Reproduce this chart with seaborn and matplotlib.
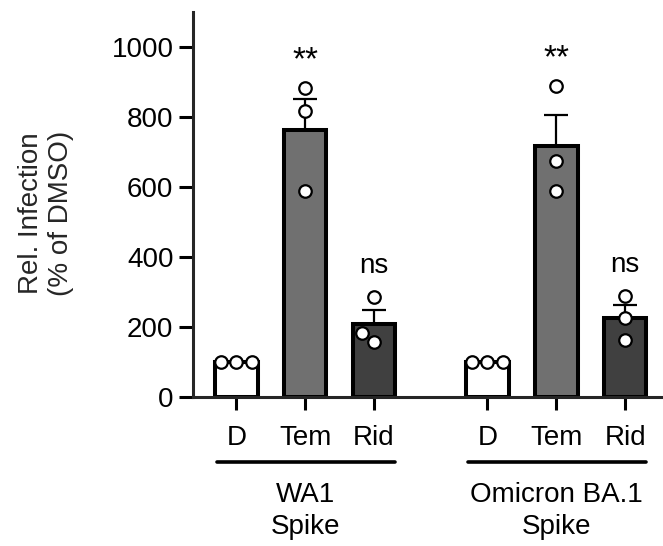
import numpy as np
import pandas as pd
import matplotlib
matplotlib.use("Agg")
import matplotlib.pyplot as plt
import matplotlib.transforms as mtransforms
import seaborn as sns

# data (replicates, % of DMSO)
groups = ["WA1\nSpike", "Omicron BA.1\nSpike"]
treatments = ["D", "Tem", "Rid"]
wa1_vals = [[100, 100, 100], [884, 817, 589], [287, 182, 157]]
omi_vals = [[100, 100, 100], [889, 674, 588], [289, 225, 163]]
sig_labels = ["", "**", "ns"]
colors = {"D": "#ffffff", "Tem": "#707070", "Rid": "#404040"}

group_gap = 1.65  # space between last bar of one group and first of next

rows = []
for gi, vals in enumerate([wa1_vals, omi_vals]):
    for ti, reps in enumerate(vals):
        pos = gi * (len(treatments) - 1 + group_gap) + ti
        for v in reps:
            rows.append({"group": groups[gi], "treat": treatments[ti], "pos": pos, "value": v})
df = pd.DataFrame(rows)

sns.set_style("ticks")
plt.rcParams['font.family'] = ['Liberation Sans', 'DejaVu Sans']
plt.rcParams['text.color'] = 'black'

fs = 20
fig = plt.figure(figsize=(6.63, 5.46), dpi=100)
ax = fig.add_axes([0.291, 0.273, 0.709, 0.705])

sns.barplot(data=df, x="pos", y="value", hue="treat", palette=colors, native_scale=True,
            errorbar=None, width=0.62, edgecolor="black", linewidth=2.9, legend=False,
            ax=ax, zorder=2)

stats = df.groupby("pos")["value"].agg(["mean", "sem"]).reset_index()
ax.errorbar(stats["pos"], stats["mean"], yerr=[np.zeros(len(stats)), stats["sem"]],
            fmt="none", ecolor="black", elinewidth=1.6, capsize=8.5, capthick=1.6, zorder=1)

sns.swarmplot(data=df, x="pos", y="value", native_scale=True, color="white", size=9,
              edgecolor="black", linewidth=1.6, ax=ax, zorder=4)

# significance labels
for (pos, treat), sub in df.groupby(["pos", "treat"]):
    lab = sig_labels[treatments.index(treat)]
    if lab:
        ax.text(pos, sub["value"].max() + (76 if lab == "**" else 88), lab,
                ha="center", va="center", fontsize=fs + (4 if lab == "**" else 0))

ax.set_ylim(0, 1100)
ax.set_yticks(range(0, 1001, 200))
ax.set_xlim(-0.63, 6.2)
xpos = sorted(df["pos"].unique())
ax.set_xticks(xpos)
ax.set_xticklabels(treatments * len(groups))
ax.set_xlabel("")
ax.set_ylabel("Rel. Infection\n(% of DMSO)", fontsize=fs, linespacing=1.2)
ax.yaxis.set_label_coords(-0.252, 0.478)

for s in ["top", "right"]:
    ax.spines[s].set_visible(False)
for s in ["left", "bottom"]:
    ax.spines[s].set_linewidth(2.2)
ax.tick_params(axis="both", width=2.2, labelsize=fs, colors="black")
ax.tick_params(axis="y", length=10, pad=4)
ax.tick_params(axis="x", length=9, pad=11)

# group bars and labels under the axis
trans = mtransforms.blended_transform_factory(ax.transData, ax.transAxes)
for gi, g in enumerate(groups):
    gpos = xpos[gi * len(treatments):(gi + 1) * len(treatments)]
    ax.plot([gpos[0] - 0.28, gpos[-1] + 0.3], [-0.169, -0.169], color="black", lw=2.6,
            transform=trans, clip_on=False)
    ax.text(np.mean(gpos), -0.222, g, ha="center", va="top", fontsize=fs, linespacing=1.3,
            transform=trans)

fig.savefig("out.png", dpi=100)
